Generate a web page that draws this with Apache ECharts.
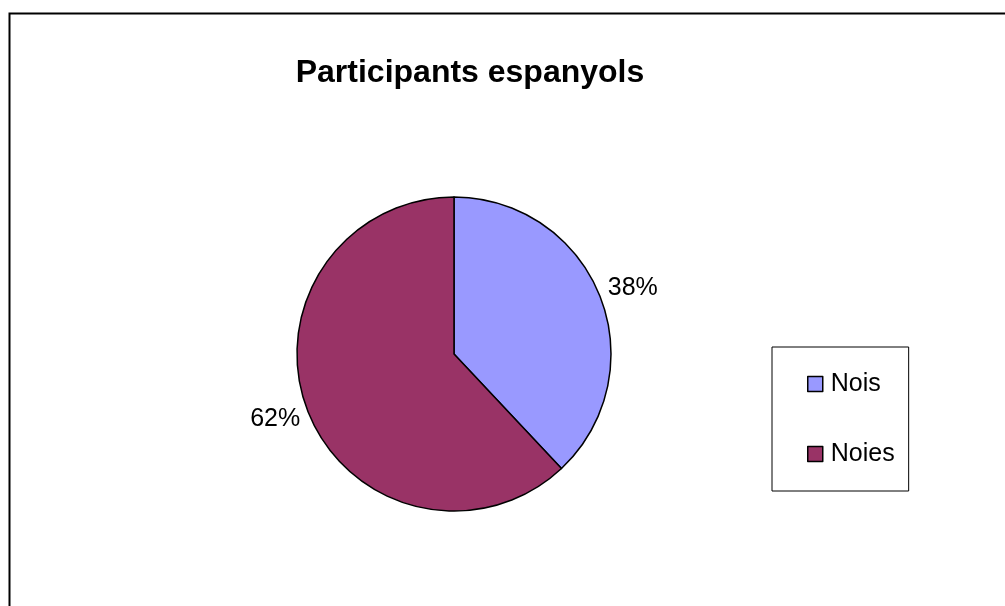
<!DOCTYPE html>
<html>
<head>
<meta charset="utf-8">
<script src="https://cdn.jsdelivr.net/npm/echarts@6/dist/echarts.min.js"></script>
<style>
html,body{margin:0;padding:0;background:#fff;}
#c{width:1005px;height:606px;}
</style>
</head>
<body>
<div id="c"></div>
<script>
var titleText = 'Participants espanyols';
var categories = ['Nois', 'Noies'];
var values = [38, 62];
var colors = ['#9999FF', '#993366'];

var chart = echarts.init(document.getElementById('c'), null, {renderer: 'canvas'});
var font = '"Liberation Sans", Arial, sans-serif';
chart.setOption({
  animation: false,
  backgroundColor: '#fff',
  title: {
    text: titleText,
    left: 465, top: 50,
    textAlign: 'center',
    textStyle: {fontFamily: font, fontSize: 32, fontWeight: 'bold', color: '#000', lineHeight: 36}
  },
  graphic: [{
    type: 'rect', left: 7, top: 11, silent: true,
    shape: {width: 1100, height: 700},
    style: {fill: 'none', stroke: '#000', lineWidth: 2}
  }],
  legend: {
    orient: 'vertical',
    left: 772, top: 347,
    padding: [23, 14, 23, 35],
    itemGap: 42,
    itemWidth: 15, itemHeight: 15,
    icon: 'rect',
    borderColor: '#000', borderWidth: 1, borderRadius: 0,
    backgroundColor: '#fff',
    itemStyle: {borderColor: '#000', borderWidth: 1.5},
    textStyle: {fontFamily: font, fontSize: 25, color: '#000', padding: [0,0,0,3], lineHeight: 28},
    data: categories
  },
  series: [{
    type: 'pie',
    center: [454, 354],
    radius: [0, 157],
    startAngle: 90,
    clockwise: true,
    silent: true,
    itemStyle: {borderColor: '#000', borderWidth: 1.5},
    label: {
      show: true, position: 'outside',
      formatter: '{d}%',
      fontFamily: font, fontSize: 25, color: '#000'
    },
    labelLine: {show: false, length: 3, length2: 0},
    labelLayout: function (p) {
      return {dy: p.dataIndex === 0 ? -7 : 6};
    },
    data: categories.map(function (n, i) {
      return {name: n, value: values[i], itemStyle: {color: colors[i]}};
    })
  }]
});
</script>
</body>
</html>
